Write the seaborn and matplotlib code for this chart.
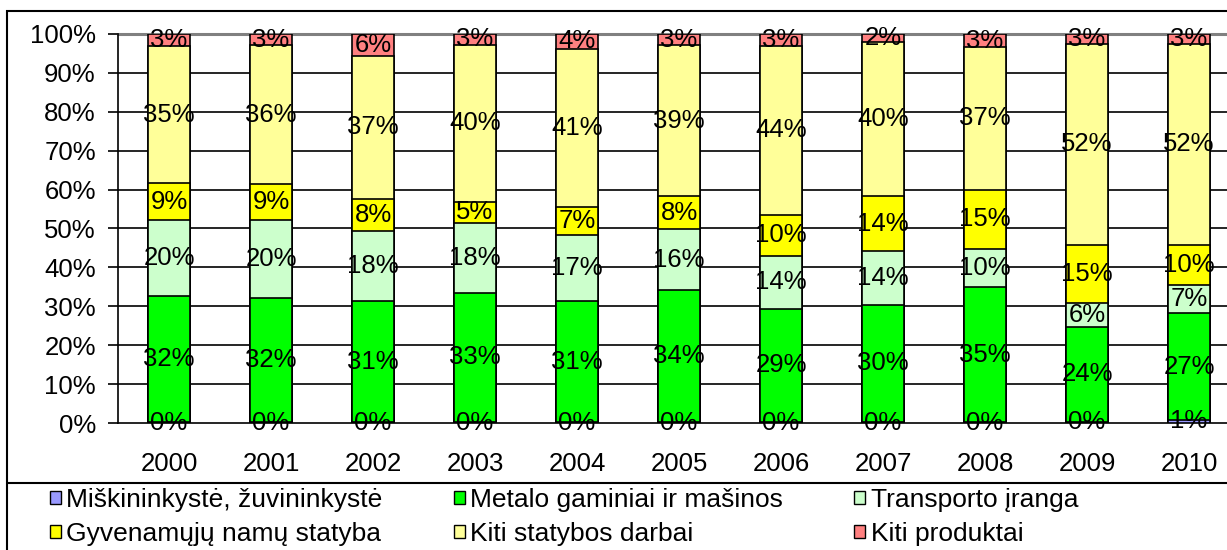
import pandas as pd
import matplotlib.pyplot as plt
import seaborn as sns
from matplotlib.patches import Rectangle, Patch
from matplotlib.lines import Line2D

# Data (shares in %, bottom to top of each bar)
years = ['2000', '2001', '2002', '2003', '2004', '2005', '2006', '2007', '2008', '2009', '2010']
categories = ['Miškininkystė, žuvininkystė', 'Metalo gaminiai ir mašinos', 'Transporto įranga',
              'Gyvenamųjų namų statyba', 'Kiti statybos darbai', 'Kiti produktai']
miskininkyste = [0.2, 0.2, 0.2, 0.2, 0.2, 0.2, 0.2, 0.2, 0.2, 0.3, 0.8]
metalo = [32.4, 31.9, 31.2, 33.3, 31.2, 33.9, 29.2, 30.2, 34.8, 24.4, 27.4]
transporto = [19.6, 20.0, 18.0, 18.0, 17.0, 15.8, 13.6, 13.8, 9.8, 6.2, 7.3]
gyvenamuju = [9.4, 9.4, 8.3, 5.4, 7.2, 8.4, 10.4, 14.1, 15.2, 14.9, 10.3]
kiti_statybos = [35.3, 35.6, 36.6, 40.3, 40.6, 38.8, 43.6, 39.6, 36.6, 51.6, 51.6]
kiti_produktai = [3.1, 2.9, 5.7, 2.8, 3.8, 2.9, 3.0, 2.1, 3.4, 2.6, 2.6]
colors = ['#9999FF', '#00FF00', '#CCFFCC', '#FFFF00', '#FFFF99', '#FF8080']

series = [miskininkyste, metalo, transporto, gyvenamuju, kiti_statybos, kiti_produktai]
df = pd.DataFrame({name: vals for name, vals in zip(categories, series)}, index=years)
cum = df.cumsum(axis=1)
low = cum - df

sns.set_style('white')
plt.rcParams['font.family'] = ['Liberation Sans', 'DejaVu Sans']
plt.rcParams['text.color'] = 'black'
plt.rcParams['xtick.color'] = 'black'
plt.rcParams['ytick.color'] = 'black'
fs = 18.5

fig = plt.figure(figsize=(12.27, 5.5), dpi=100)
ax = fig.add_axes([0.0962, 0.2309, 0.9144, 0.7073])

# stacked bars: draw cumulative totals from the top layer down
for name, color in reversed(list(zip(categories, colors))):
    sns.barplot(x=years, y=cum[name].values, color=color, saturation=1, width=0.41,
                edgecolor='black', linewidth=1.2, errorbar=None, ax=ax, zorder=3)

# value labels centred in each segment
for i, yr in enumerate(years):
    for name in categories:
        v = df.loc[yr, name]
        mid = low.loc[yr, name] + v / 2
        ax.text(i, mid, f'{round(v)}%', ha='center', va='center', fontsize=fs,
                color='black', zorder=5)

ax.set_xlim(-0.5, 10.5)
ax.set_ylim(0, 100)
ax.set_yticks(range(0, 101, 10))
ax.set_yticklabels([f'{t}%' for t in range(0, 101, 10)], fontsize=fs)
ax.set_xticks(range(len(years)))
ax.set_xticklabels(years, fontsize=fs)
ax.set_xticks([i - 0.5 for i in range(len(years) + 1)], minor=True)
ax.tick_params(axis='x', which='major', length=0, pad=21)
ax.tick_params(axis='x', which='minor', length=7, width=1.2, color='black', direction='out')
ax.tick_params(axis='y', length=7, width=1.2, color='black', direction='out', pad=9, left=True)
ax.set_xlabel('')
ax.set_ylabel('')

for t in range(10, 100, 10):
    ax.axhline(t, color='black', lw=1.2, zorder=1)
ax.axhline(100, color='#808080', lw=2.2, zorder=1, clip_on=False)
for s in ['top', 'right']:
    ax.spines[s].set_visible(False)
ax.spines['left'].set_color('black')
ax.spines['bottom'].set_color('black')
ax.spines['left'].set_linewidth(1.2)
ax.spines['bottom'].set_linewidth(1.2)

# outer frame and legend separator
fig.patches.append(Rectangle((7 / 1227, -0.05), 1.1, 1 - 11 / 550 + 0.05, transform=fig.transFigure,
                             fill=False, edgecolor='black', lw=1.5, zorder=0))
fig.lines.append(Line2D([7 / 1227, 1], [1 - 483 / 550] * 2, transform=fig.transFigure,
                        color='black', lw=1.5))

handles = [Patch(facecolor=c, edgecolor='black', lw=1.0, label=n) for n, c in zip(categories, colors)]
order = [0, 3, 1, 4, 2, 5]
fig.legend([handles[i] for i in order], [categories[i] for i in order], ncol=3,
           loc='upper left', bbox_to_anchor=(50 / 1227, 1 - 488 / 550), frameon=False,
           fontsize=19, handlelength=0.42, handleheight=0.42, handletextpad=0.2,
           columnspacing=2.7, labelspacing=0.38, borderpad=0, borderaxespad=0)

fig.savefig('out.png', dpi=100)
